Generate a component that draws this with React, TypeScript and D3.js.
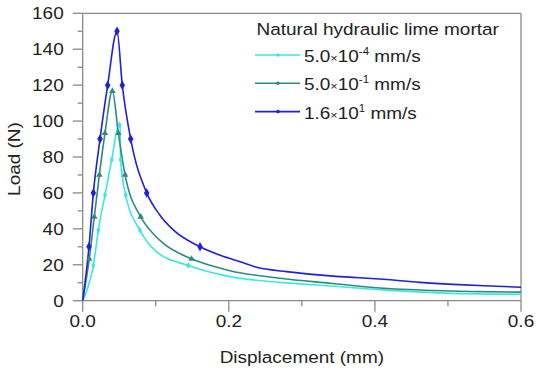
import React from "react";
import * as d3 from "d3";

const W = 536;
const H = 379;

const xTicks = [0, 0.2, 0.4, 0.6];
const xMinorTicks = [0.1, 0.3, 0.5];
const yTicks = [0, 20, 40, 60, 80, 100, 120, 140, 160];
const yMinorTicks = [10, 30, 50, 70, 90, 110, 130, 150];

const seriesMantissa = ["5.0", "5.0", "1.6"];
const seriesExp = ["-4", "-1", "1"];
const seriesColors = ["#3de6e6", "#2e8b7c", "#2020dd"];

const cyanLine: [number, number][] = [
  [0, 0], [0.006, 6], [0.0146, 19.6], [0.0214, 39.2], [0.0305, 58.8], [0.0397, 78.4],
  [0.0495, 98], [0.0512, 98], [0.0518, 78.4], [0.0589, 58.8], [0.0785, 39.2],
  [0.101, 27.3], [0.1446, 19.6], [0.2016, 13.4], [0.27, 10.2], [0.3386, 8.2],
  [0.4115, 6.0], [0.507, 4.1], [0.6, 3.6],
];
const cyanMarks: [number, number][] = [
  [0.0146, 19.6], [0.0214, 39.2], [0.0305, 58.8], [0.0397, 78.4], [0.0505, 98],
  [0.0518, 78.4], [0.0589, 58.8], [0.0785, 39.2], [0.1446, 19.6],
];

const tealLine: [number, number][] = [
  [0, 0], [0.009, 23.3], [0.0159, 46.7], [0.0228, 70], [0.0305, 93.3], [0.0406, 116.7],
  [0.0488, 93.3], [0.058, 70], [0.0794, 46.7], [0.095, 38], [0.11, 32], [0.149, 23.3],
  [0.2016, 16.7], [0.27, 12.5], [0.3386, 9.7], [0.4115, 6.9], [0.507, 5.4], [0.6, 4.8],
];
const tealMarks: [number, number][] = [
  [0.009, 23.3], [0.0159, 46.7], [0.0228, 70], [0.0305, 93.3], [0.0406, 116.7],
  [0.0488, 93.3], [0.058, 70], [0.0794, 46.7], [0.149, 23.3],
];

const blueLine: [number, number][] = [
  [0, 0], [0.0086, 30], [0.0146, 60], [0.0237, 90], [0.0342, 120], [0.047, 150],
  [0.0542, 120], [0.0657, 90], [0.0876, 60], [0.105, 48], [0.124, 39.4], [0.1606, 30],
  [0.19, 25], [0.2153, 21.7], [0.238, 18.6], [0.2793, 16.2], [0.3386, 13.8],
  [0.37, 13], [0.4115, 11.9], [0.4617, 10.2], [0.507, 9.1], [0.55, 8.3], [0.6, 7.5],
];
const blueMarks: [number, number][] = [
  [0.0086, 30], [0.0146, 60], [0.0237, 90], [0.0342, 120], [0.047, 150],
  [0.0542, 120], [0.0657, 90], [0.0876, 60], [0.1606, 30],
];

const lines = [cyanLine, tealLine, blueLine];
const marks = [cyanMarks, tealMarks, blueMarks];
const symbols = [d3.symbolDiamond, d3.symbolTriangle, d3.symbolDiamond];
const symbolSizes = [14, 18, 26];

const FONT = "Liberation Sans, Arial, Helvetica, sans-serif";
const SX = 1.15;

export default function App() {
  const x = d3.scaleLinear().domain([0, 0.6]).range([82.7, 521]);
  const y = d3.scaleLinear().domain([0, 160]).range([300.7, 13.3]);
  const lineGen = d3
    .line<[number, number]>()
    .x((d) => x(d[0]))
    .y((d) => y(d[1]))
    .curve(d3.curveMonotoneX);
  const axisColor = "#8a8a8a";
  const x0 = x(0), x1 = x(0.6), y0 = y(0), y1 = y(160);

  const T = (px: number, py: number, anchor: string, size: number, content: React.ReactNode, rotate = 0) => (
    <text
      transform={`translate(${px},${py}) rotate(${rotate}) scale(${SX},1)`}
      textAnchor={anchor}
      fontSize={size}
      fontFamily={FONT}
      fill="#222"
    >
      {content}
    </text>
  );

  return (
    <svg width={W} height={H} style={{ position: "absolute", left: 0, top: 0, background: "#fff" }}>
      {/* frame */}
      <line x1={x0} x2={x1} y1={y1} y2={y1} stroke={axisColor} strokeWidth={1.3} />
      <line x1={x1} x2={x1} y1={y1} y2={y0} stroke={axisColor} strokeWidth={1.3} />
      <line x1={x0} x2={x1} y1={y0} y2={y0} stroke={axisColor} strokeWidth={1.3} />
      <line x1={x0} x2={x0} y1={y1} y2={y0} stroke={axisColor} strokeWidth={1.3} />
      {/* y ticks */}
      {yTicks.map((t) => (
        <g key={"yt" + t}>
          <line x1={x0 - 10} x2={x0} y1={y(t)} y2={y(t)} stroke={axisColor} strokeWidth={1.3} />
          {T(x0 - 19, y(t) + 6, "end", 16.5, String(t))}
        </g>
      ))}
      {yMinorTicks.map((t) => (
        <line key={"ym" + t} x1={x0 - 5} x2={x0} y1={y(t)} y2={y(t)} stroke={axisColor} strokeWidth={1.3} />
      ))}
      {/* x ticks */}
      {xTicks.map((t) => (
        <g key={"xt" + t}>
          <line x1={x(t)} x2={x(t)} y1={y0} y2={y0 + 11} stroke={axisColor} strokeWidth={1.3} />
          {T(x(t), 327, "middle", 16.5, t.toFixed(1))}
        </g>
      ))}
      {xMinorTicks.map((t) => (
        <line key={"xm" + t} x1={x(t)} x2={x(t)} y1={y0} y2={y0 + 5.5} stroke={axisColor} strokeWidth={1.3} />
      ))}
      {/* axis titles */}
      {T((x0 + x1) / 2, 363, "middle", 16.5, "Displacement (mm)")}
      <text
        transform={`translate(20,${(y0 + y1) / 2 + 2}) rotate(-90) scale(${SX},1)`}
        textAnchor="middle"
        fontSize={16.5}
        fontFamily={FONT}
        fill="#222"
      >
        Load (N)
      </text>
      {/* series */}
      {lines.map((ln, i) => (
        <path key={"l" + i} d={lineGen(ln) || ""} fill="none" stroke={seriesColors[i]} strokeWidth={1.6} />
      ))}
      {marks.map((ms, i) =>
        ms.map((m, j) => (
          <path
            key={"m" + i + "-" + j}
            transform={`translate(${x(m[0])},${y(m[1])})`}
            d={d3.symbol().type(symbols[i]).size(symbolSizes[i])() || ""}
            fill={seriesColors[i]}
          />
        ))
      )}
      {/* legend */}
      {T(256.5, 35, "start", 16.5, "Natural hydraulic lime mortar")}
      {seriesMantissa.map((nm, i) => {
        const ly = 55 + i * 28.3;
        return (
          <g key={"lg" + i}>
            <line x1={255} x2={300} y1={ly} y2={ly} stroke={seriesColors[i]} strokeWidth={1.6} />
            <circle cx={278} cy={ly} r={1.8} fill={seriesColors[i]} />
            {T(
              304,
              ly + 7,
              "start",
              16.5,
              <>
                <tspan>{nm}</tspan>
                <tspan fontSize={11}>×</tspan>
                <tspan>10</tspan>
                <tspan fontSize={10} dy={-7}>{seriesExp[i]}</tspan>
                <tspan dy={7}> mm/s</tspan>
              </>
            )}
          </g>
        );
      })}
    </svg>
  );
}
